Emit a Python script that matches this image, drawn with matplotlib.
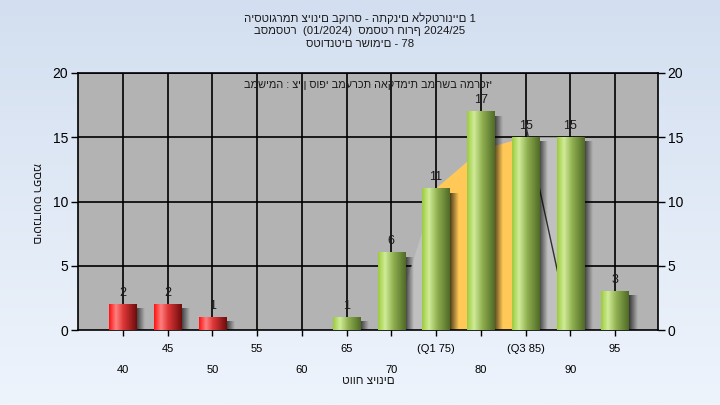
import numpy as np
import matplotlib
matplotlib.use("Agg")
import matplotlib.pyplot as plt
from matplotlib.colors import LinearSegmentedColormap
from matplotlib.ticker import FixedLocator, FixedFormatter

plt.rcParams['font.family'] = ['Liberation Sans', 'DejaVu Sans']

# ---- data ----
grades = [40, 45, 50, 55, 60, 65, 70, 75, 80, 85, 90, 95]
counts = [2, 2, 1, 0, 0, 1, 6, 11, 17, 15, 15, 3]
upper_ticks = [45, 55, 65, 75, 85, 95]
upper_labels = ["45", "55", "65", "(Q1 75)", "(Q3 85)", "95"]
lower_ticks = [40, 50, 60, 70, 80, 90]
lower_labels = ["40", "50", "60", "70", "80", "90"]
fail_limit = 55
# background envelope (light gray) and inter-quartile band (orange)
env_x = [70, 75, 80, 85, 90, 90]
env_y = [0, 11, 14, 15, 15, 0]
iqr_x = [75, 75, 80, 85, 85]
iqr_y = [0, 11, 14, 15, 0]
line_x = [85, 90]
line_y = [16, 0]

title_lines = ["היסטוגרמת ציונים בקורס - התקנים אלקטרוניים 1",
               "בסמסטר  (01/2024)  סמסטר חורף 2024/25",
               "סטודנטים רשומים - 78"]
note = "במשימה : ציון סופי במערכת האקדמית במחשב המרכזי"
xlabel = "טווח ציונים"
ylabel = "מספר סטודנטים"

fig = plt.figure(figsize=(7.2, 4.05), dpi=100)

# figure gradient background
bg = fig.add_axes([0, 0, 1, 1], zorder=-10)
grad = np.linspace(0, 1, 256).reshape(-1, 1)
bgcmap = LinearSegmentedColormap.from_list("bg", ["#d3dff0", "#eef4fc"])
bg.imshow(grad, aspect='auto', cmap=bgcmap, extent=[0, 1, 0, 1], origin='upper')
bg.set_axis_off()

ax = fig.add_axes([78/720, 1-330/405, 580/720, 257/405])
ax.set_facecolor("#b3b3b3")

# grid
for g in grades:
    ax.axvline(g, color='black', lw=1.2, zorder=1)
for yv in [5, 10, 15, 20]:
    ax.axhline(yv, color='black', lw=1.2, zorder=1)

ax.fill(env_x, env_y, color="#c0c0c0", zorder=1.5, lw=0)
ax.fill(iqr_x, iqr_y, color="#ffc857", zorder=1.6, lw=0)
ax.plot(line_x, line_y, color="#303030", lw=1.0, zorder=1.7)

bw = 3.05

def bar_cmap(kind):
    if kind == 'red':
        cols = [(0.0, "#ff1010"), (0.25, "#ff8080"), (0.5, "#e03838"), (1.0, "#6e0c0c")]
    else:
        cols = [(0.0, "#9ccb3c"), (0.25, "#d0ec98"), (0.55, "#90b050"), (1.0, "#4e6a26")]
    return LinearSegmentedColormap.from_list(kind, cols)

red_cm = bar_cmap('red')
green_cm = bar_cmap('green')
hgrad = np.linspace(0, 1, 128).reshape(1, -1)

# shadow gradient (RGBA)
sh = np.zeros((1, 64, 4))
sh[..., 3] = np.linspace(0.7, 0.0, 64)

for g, c in zip(grades, counts):
    if c <= 0:
        continue
    cm = red_cm if g < fail_limit else green_cm
    ax.imshow(sh, aspect='auto', extent=[g + bw/2, g + bw/2 + 0.9, 0, c - 0.35],
              zorder=2, interpolation='bilinear')
    ax.imshow(hgrad, aspect='auto', cmap=cm,
              extent=[g - bw/2, g + bw/2, 0, c], zorder=3, interpolation='bilinear')
    ax.annotate(str(c), (g, c), xytext=(0, 4), textcoords='offset points',
                ha='center', va='bottom', fontsize=9, color='#1a1a1a', zorder=5)

ax.set_xlim(35, 99.8)
ax.set_ylim(0, 20)

# x ticks: two rows
ax.xaxis.set_major_locator(FixedLocator(upper_ticks))
ax.xaxis.set_major_formatter(FixedFormatter(upper_labels))
ax.xaxis.set_minor_locator(FixedLocator(lower_ticks))
ax.xaxis.set_minor_formatter(FixedFormatter(lower_labels))
ax.tick_params(axis='x', which='major', length=4, width=1, pad=6, labelsize=8, colors='black')
ax.tick_params(axis='x', which='minor', length=4, width=1, pad=21, labelsize=8, colors='black')

ax.set_yticks([0, 5, 10, 15, 20])
ax.tick_params(axis='y', which='both', length=5, width=1, labelsize=10, pad=2,
               left=True, right=True, labelleft=True, labelright=True)

for s in ax.spines.values():
    s.set_color('black')
    s.set_linewidth(1.2)

ax.text(0.5, 0.953, note, transform=ax.transAxes, ha='center', va='center',
        fontsize=7.8, color='#1a1a1a', zorder=6)

for i, (line, ypx) in enumerate(zip(title_lines, [18, 31, 44])):
    fig.text(0.5, 1 - ypx/405, line, ha='center', va='center', fontsize=8.2,
             color='#1a1a1a')
fig.text(368/720, 1 - 381/405, xlabel, ha='center', va='center', fontsize=8.5, color='#1a1a1a')
fig.text(36/720, 1 - 203/405, ylabel, ha='center', va='center', fontsize=8.5,
         rotation=270, color='#1a1a1a')

fig.savefig("out.png", dpi=100)
